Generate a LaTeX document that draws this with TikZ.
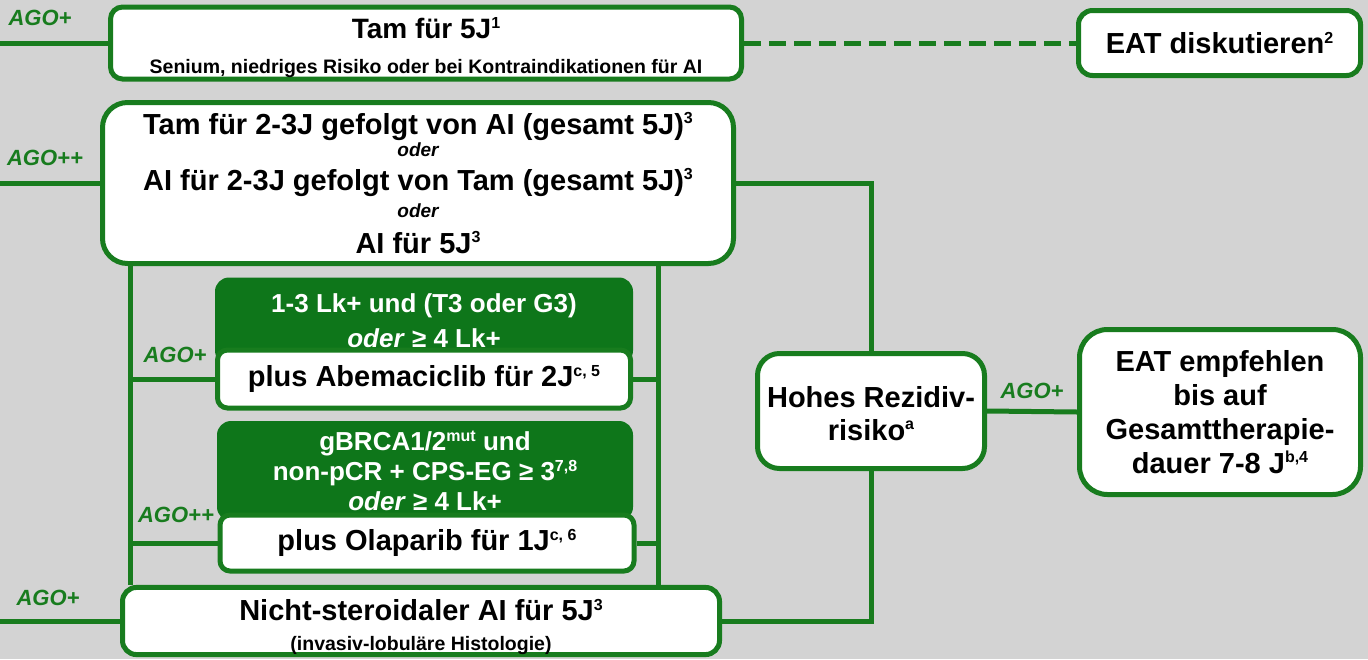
\documentclass[tikz,border=0pt]{standalone}
\usepackage{fontspec}
\setmainfont{Liberation Sans}
\definecolor{agogreen}{RGB}{24,124,30}
\definecolor{hdrgreen}{RGB}{14,118,26}
\definecolor{paper}{RGB}{211,211,211}
\newcommand\mainfs{\fontsize{29}{29}\selectfont}
\newcommand\subfs{\fontsize{19.5}{19.5}\selectfont}
\newcommand\oderfs{\fontsize{19}{19}\selectfont\itshape}
\newcommand\fnote[1]{\raisebox{0.36em}{\fontsize{16}{16}\selectfont #1}}

\begin{document}
\begin{tikzpicture}[
  x=1pt, y=-1pt,
  box/.style={draw=agogreen, line width=5pt, fill=white, rounded corners=#1,
    inner sep=0pt, align=center, font={\mainfs\bfseries\lineskiplimit=-40pt}},
  box/.default=14pt,
  hdr/.style={fill=hdrgreen, rounded corners=14pt, text=white, inner sep=0pt,
    align=center, font={\fontsize{26}{32}\selectfont\bfseries\lineskiplimit=-40pt}},
  wire/.style={draw=agogreen, line width=5pt},
  ago/.style={text=agogreen, inner sep=0pt, font=\fontsize{22}{22}\selectfont\bfseries\itshape},
]

\fill [paper] (0,0) rectangle (1368,659);
\useasboundingbox (0,0) rectangle (1368,659);
\coordinate (edgeL) at (0,0);
\coordinate (busL) at (130,0);
\coordinate (busR) at (658,0);

% left column
\node [box=12pt, minimum width=631pt, minimum height=72pt] (tam) at (426,43)
  {\rule{0pt}{30pt}{\fontsize{28}{28}\selectfont Tam für 5J\fnote{1}}\\[6pt]
   {\subfs Senium, niedriges Risiko oder bei Kontraindikationen für AI}};
\node [box=25pt, minimum width=631pt, minimum height=161pt] (seq) at (418,183)
  {Tam für 2-3J gefolgt von AI (gesamt 5J)\fnote{3}\\[-7pt]
   {\oderfs oder}\\[5pt]
   AI für 2-3J gefolgt von Tam (gesamt 5J)\fnote{3}\\[-2pt]
   {\oderfs oder}\\[7pt]
   AI für 5J\fnote{3}};

\node [hdr, minimum width=418pt, minimum height=87pt] (abema) at (424,321)
  {1-3 Lk+ und (T3 oder G3)\\[3pt] \textit{oder} ≥ 4 Lk+};
\node [box=10pt, minimum width=413pt, minimum height=58pt] (abemaplus) at (424,379)
  {plus Abemaciclib für 2J\fnote{c, 5}};

\node [hdr, minimum width=416pt, minimum height=100pt] (olap) at (425,471)
  {gBRCA1/2\fnote{mut} und\\[-2pt]
   non-pCR + CPS-EG ≥ 3\fnote{7,8}\\[-2pt]
   \textit{oder} ≥ 4 Lk+};
\node [box=10pt, minimum width=414pt, minimum height=56pt] (olapplus) at (427,543)
  {plus Olaparib für 1J\fnote{c, 6}};

\node [box=14pt, minimum width=597pt, minimum height=67pt] (nsai) at (421,621)
  {\rule{0pt}{33pt}Nicht-steroidaler AI für 5J\fnote{3}\\[1pt]
   {\subfs (invasiv-lobuläre Histologie)}};

% right column
\node [box=14pt, minimum width=282pt, minimum height=65pt] (eatdisk) at (1219.5,43)
  {EAT diskutieren\fnote{2}};
\node [box=22pt, minimum width=227pt, minimum height=115pt] (risk) at (871,411)
  {\rule{0pt}{26pt}Hohes Rezidiv-\\[4pt] risiko\fnote{a}};
\node [box=28pt, minimum width=281pt, minimum height=165pt] (eatrec) at (1220,412)
  {EAT empfehlen\\[5pt] bis auf\\[5pt] Gesamttherapie-\\[5pt] dauer 7-8 J\fnote{b,4}};

% connectors
\draw [wire] (tam.west -| edgeL) -- (tam.west);
\draw [wire] (seq.west -| edgeL) -- (seq.west);
\draw [wire] (nsai.west -| edgeL) -- (nsai.west);
\draw [wire, dash pattern=on 17pt off 8pt] (tam.east) -- (eatdisk.west);
\draw [wire] (seq.east) -| (risk.north);
\draw [wire] (risk.south) |- (nsai.east);
\draw [wire] (risk.east) -- (eatrec.west);

\draw [wire] (seq.south -| busL) -- (nsai.north -| busL);
\draw [wire] (seq.south -| busR) -- (nsai.north -| busR);
\draw [wire] (abemaplus.center -| busL) -- (abemaplus.west);
\draw [wire] (abemaplus.east) -- (abemaplus.center -| busR);
\draw [wire] (olapplus.center -| busL) -- (olapplus.west);
\draw [wire] (olapplus.east) -- (olapplus.center -| busR);

% labels
\node [ago] (agotam) at (40,18) {AGO+};
\node [ago] (agoseq) at (45,158) {AGO++};
\node [ago] (agoabema) at (175,355) {AGO+};
\node [ago] (agoolap) at (176,515) {AGO++};
\node [ago] (agonsai) at (48,598) {AGO+};
\node [ago] (agorisk) at (1032,391) {AGO+};

\end{tikzpicture}
\end{document}
